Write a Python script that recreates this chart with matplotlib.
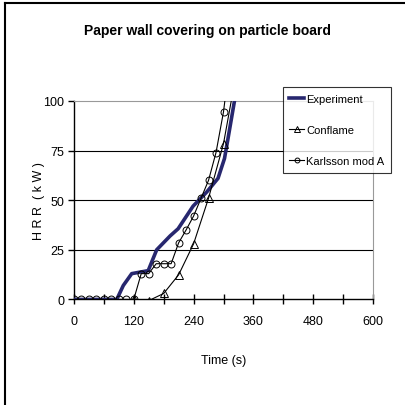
import numpy as np
import matplotlib.pyplot as plt
from matplotlib.lines import Line2D

plt.rcParams['font.family'] = ['Liberation Sans', 'DejaVu Sans']

# Experiment
t_exp = [0, 40, 86, 99, 116, 149, 166, 193, 209, 239, 266, 289, 302, 309, 322]
hrr_exp = [0, 0, 0, 7, 13, 14.5, 25, 32, 35.6, 47, 54, 61, 71, 81, 100]

# Conflame
t_con = [120, 150, 180, 210, 240, 270, 300, 330]
hrr_con = [0, -0.6, 3, 12.4, 28, 51, 78.5, 120]

# Karlsson mod A
t_kar = [0, 15, 30, 45, 60, 75, 90, 105, 120, 135, 150, 165, 180, 195, 210,
         225, 240, 255, 270, 285, 300, 315]
hrr_kar = [0, 0, 0, 0, 0, 0, 0, 0, 0, 13, 13, 18, 18, 18, 28.5,
           35, 42, 51, 60, 74, 94.5, 125]

xticks = [0, 120, 240, 360, 480, 600]
yticks = [0, 25, 50, 75, 100]

fig = plt.figure(figsize=(4.06, 4.06), dpi=100)
ax = fig.add_axes([0.182, 0.260, 0.737, 0.489])

ax.plot(t_exp, hrr_exp, color='#27276f', lw=2.6, label='Experiment', zorder=3)
ax.plot(t_con, hrr_con, color='black', lw=0.8, marker='^', ms=5.5, mfc='none',
        mew=0.7, label='Conflame', zorder=4)
ax.plot(t_kar, hrr_kar, color='black', lw=0.8, marker='o', ms=5, mfc='none',
        mew=0.7, label='Karlsson mod A', zorder=4)

ax.set_xlim(0, 600)
ax.set_ylim(0, 100)
ax.set_xticks(xticks)
ax.set_xticks(np.arange(0, 601, 60), minor=True)
ax.set_yticks(yticks)
for y in yticks[1:-1]:
    ax.axhline(y, color='black', lw=0.8, zorder=1)

ax.spines['top'].set_color('#999999')
ax.spines['right'].set_color('#999999')
ax.spines['left'].set_linewidth(1.0)
ax.spines['bottom'].set_linewidth(1.0)
ax.tick_params(axis='x', which='both', direction='inout', length=7, width=1.0, pad=8, labelsize=9)
ax.tick_params(axis='y', direction='out', length=4, width=1.0, pad=3, labelsize=9)

ax.set_xlabel('Time (s)', fontsize=9, labelpad=19)
ax.set_ylabel('H R R  ( k W )', fontsize=9, labelpad=-1)
fig.text(0.51, 0.924, 'Paper wall covering on particle board', ha='center', va='center',
         fontsize=10, fontweight='bold')

leg = ax.legend(loc='upper left', bbox_to_anchor=(0.698, 1.07), frameon=True, fancybox=False,
                edgecolor='black', fontsize=8, handlelength=1.3, handletextpad=0.2,
                borderpad=0.6, labelspacing=1.9, borderaxespad=0, markerscale=0.7)
leg.get_frame().set_linewidth(0.8)

# outer chart border (top and left)
fig.add_artist(Line2D([5 / 406, 1], [1 - 4 / 406, 1 - 4 / 406], color='black', lw=1.5))
fig.add_artist(Line2D([5 / 406, 5 / 406], [0, 1 - 4 / 406], color='black', lw=1.5))

fig.savefig('out.png', dpi=100)
